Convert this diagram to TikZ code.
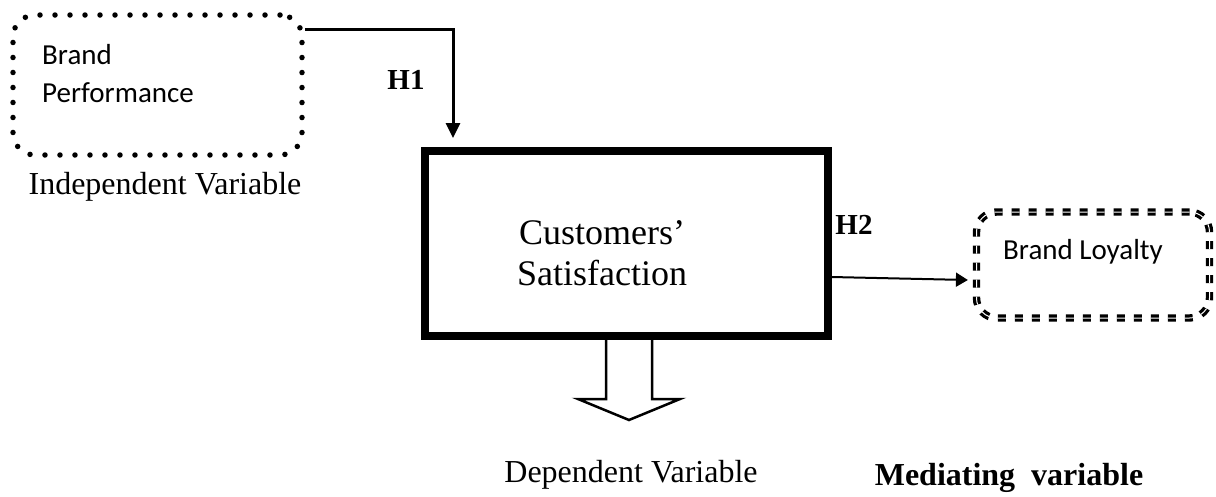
\documentclass[tikz,border=0pt]{standalone}
\usepackage{fontspec}
\setmainfont{Liberation Serif}
\newfontfamily\calibri{Carlito}
\usetikzlibrary{arrows.meta,calc}

\begin{document}
\begin{tikzpicture}[
  x=1pt, y=1pt,
  dotbox/.style={
    draw,
    line width=5.5pt,
    line cap=round,
    dash pattern=on 0pt off 15pt,
    rounded corners=22pt,
    minimum width=289pt,
    minimum height=140pt,
    inner sep=0pt
  },
  satbox/.style={
    draw,
    line width=8pt,
    minimum width=403pt,
    minimum height=185pt,
    inner sep=0pt
  },
  loybox/.style={
    draw,
    line width=3.2pt,
    double,
    double distance=1pt,
    dash pattern=on 8pt off 9pt,
    rounded corners=20pt,
    minimum width=233pt,
    minimum height=106pt,
    inner sep=0pt
  },
  sanstext/.style={font=\calibri\fontsize{29}{38}\selectfont, align=left, inner sep=0pt},
  serif/.style={font=\fontsize{32}{36}\selectfont, inner sep=0pt},
  bigserif/.style={font=\fontsize{36}{41}\selectfont, align=center, inner sep=0pt},
  hyp/.style={font=\fontsize{29}{30}\selectfont\bfseries, inner sep=0pt},
  line/.style={-{Triangle[length=15pt,width=14pt]}, line width=3pt},
  thinline/.style={-{Triangle[length=12pt,width=14pt]}, line width=2pt},
  hollow/.style={draw, fill=white, line width=2.5pt, line join=miter}
]
\useasboundingbox (0,0) rectangle (1216,-496);

% Boxes
\node[dotbox] (perf) at (157.5,-85) {};
\node[sanstext] (perftext) at (118,-74) {Brand\\Performance};
\node[satbox] (sat) at (626,-243.5) {};
\node[bigserif] (sattext) at (602,-253) {Customers'\\Satisfaction};
\node[loybox] (loy) at (1093,-265) {};
\node[sanstext] (loytext) at (1083,-252) {Brand Loyalty};

% Hypotheses
\node[hyp] (h1) at (406,-80) {H1};
\node[hyp] (h2) at (854,-225) {H2};

% Captions
\node[serif] (indep) at (165,-187) {Independent Variable};
\node[serif] (dep) at (631,-475) {Dependent Variable};
\node[serif, font=\fontsize{32}{36}\selectfont\bfseries] (med) at (1009,-478) {Mediating\ \ variable};

% Connectors
\draw[line] ([yshift=-17pt]perf.north east) -| ([xshift=32.5pt,yshift=9pt]sat.north west);
\draw[thinline] ([yshift=-33.5pt]sat.east) -- ([xshift=-7pt,yshift=-15pt]loy.west);

% Block arrow down
\coordinate (dv) at ([xshift=3pt]sat.south);
\draw[hollow] ([xshift=-23pt]dv) -- ++(0,-59) -- ++(-28,0) -- ++(51,-21)
  -- ++(51,21) -- ++(-28,0) -- ++(0,59);

\end{tikzpicture}
\end{document}
